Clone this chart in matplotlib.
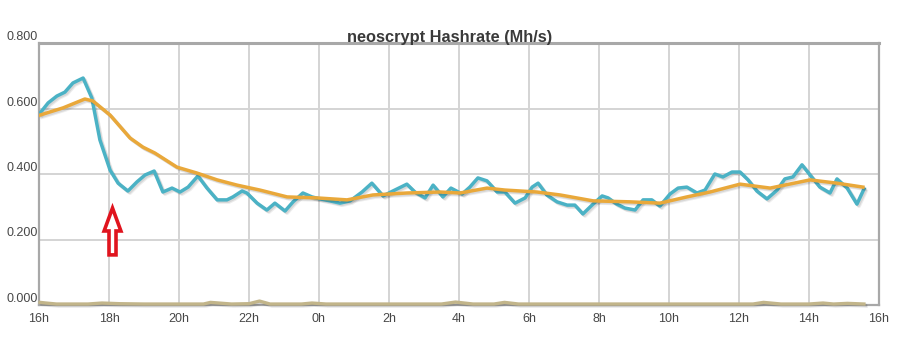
import matplotlib
matplotlib.use("Agg")
import matplotlib.pyplot as plt
import matplotlib.patheffects as pe
from matplotlib.patches import FancyArrow

# hours after 16h
hashrate_t = [0.03, 0.26, 0.51, 0.74, 0.97, 1.26, 1.51, 1.74, 2.03, 2.26, 2.54, 2.80, 3.03, 3.29,
              3.54, 3.80, 4.03, 4.26, 4.54, 4.80, 5.09, 5.37, 5.54, 5.80, 5.94, 6.23, 6.51, 6.74,
              7.03, 7.26, 7.54, 7.80, 8.03, 8.31, 8.60, 8.89, 9.23, 9.51, 9.83, 10.11, 10.51, 10.74,
              11.03, 11.26, 11.54, 11.77, 12.09, 12.31, 12.54, 12.80, 13.09, 13.31, 13.60, 13.89,
              14.09, 14.26, 14.51, 14.80, 15.09, 15.31, 15.54, 15.80, 16.09, 16.26, 16.51, 16.74,
              17.03, 17.26, 17.51, 17.74, 18.03, 18.26, 18.51, 18.80, 19.03, 19.31, 19.54, 19.80,
              20.03, 20.26, 20.51, 20.80, 21.09, 21.31, 21.54, 21.80, 22.03, 22.31, 22.60, 22.80,
              23.09, 23.37, 23.57]
hashrate = [0.586, 0.617, 0.638, 0.650, 0.678, 0.693, 0.632, 0.504, 0.412, 0.372, 0.348, 0.376,
            0.397, 0.409, 0.345, 0.357, 0.345, 0.360, 0.394, 0.357, 0.321, 0.321, 0.330, 0.348,
            0.342, 0.311, 0.290, 0.311, 0.287, 0.315, 0.342, 0.330, 0.324, 0.318, 0.311, 0.318,
            0.345, 0.372, 0.333, 0.348, 0.369, 0.345, 0.327, 0.366, 0.330, 0.357, 0.339, 0.360,
            0.388, 0.379, 0.345, 0.345, 0.311, 0.327, 0.360, 0.372, 0.336, 0.315, 0.305, 0.305,
            0.278, 0.305, 0.333, 0.327, 0.308, 0.296, 0.290, 0.321, 0.321, 0.302, 0.339, 0.357,
            0.360, 0.342, 0.351, 0.400, 0.391, 0.406, 0.406, 0.382, 0.348, 0.324, 0.351, 0.385,
            0.391, 0.428, 0.397, 0.360, 0.342, 0.385, 0.357, 0.308, 0.354]

average_t = [0.03, 0.69, 1.31, 1.54, 2.03, 2.60, 2.97, 3.31, 3.94, 4.51, 5.09, 5.66, 6.31, 7.09,
             7.94, 8.80, 9.54, 10.51, 11.46, 12.03, 12.80, 13.31, 14.23, 14.89, 15.83, 16.89,
             17.74, 18.51, 19.17, 20.03, 20.89, 22.03, 22.80, 23.54]
average = [0.580, 0.602, 0.629, 0.623, 0.580, 0.510, 0.482, 0.464, 0.421, 0.403, 0.382, 0.366,
           0.351, 0.330, 0.327, 0.321, 0.336, 0.342, 0.345, 0.342, 0.357, 0.351, 0.345, 0.336,
           0.318, 0.315, 0.311, 0.330, 0.345, 0.369, 0.357, 0.382, 0.372, 0.360]

rejected_t = [0.03, 0.2, 0.5, 1.4, 1.8, 2.3, 3.0, 4.7, 4.9, 5.5, 6.0, 6.3, 6.6, 7.5, 7.8, 8.2,
              11.5, 11.9, 12.4, 13.0, 13.3, 13.7, 20.4, 20.7, 21.2, 22.0, 22.4, 22.7, 23.1, 23.57]
rejected = [0.008, 0.006, 0.003, 0.003, 0.006, 0.004, 0.003, 0.003, 0.008, 0.003, 0.004, 0.012,
            0.003, 0.003, 0.006, 0.003, 0.003, 0.009, 0.003, 0.003, 0.008, 0.003, 0.003, 0.008,
            0.003, 0.003, 0.006, 0.003, 0.005, 0.003]

x_ticks = [0, 2, 4, 6, 8, 10, 12, 14, 16, 18, 20, 22, 24]
x_labels = ['16h', '18h', '20h', '22h', '0h', '2h', '4h', '6h', '8h', '10h', '12h', '14h', '16h']
y_ticks = [0.0, 0.2, 0.4, 0.6, 0.8]
y_labels = ['0.000', '0.200', '0.400', '0.600', '0.800']

plt.rcParams['font.family'] = ['Liberation Sans', 'DejaVu Sans']

shadow = [pe.SimpleLineShadow(offset=(1.6, -1.6), shadow_color='black', alpha=0.07),
          pe.SimpleLineShadow(offset=(1.0, -1.0), shadow_color='black', alpha=0.09),
          pe.Normal()]

fig = plt.figure(figsize=(8.97, 3.53), dpi=100)
ax = fig.add_axes([39 / 897, 48 / 353, 840 / 897, 262 / 353])

ax.plot(rejected_t, rejected, color='#c2b58a', lw=2.4, zorder=4, clip_on=False, path_effects=shadow)
ax.plot(hashrate_t, hashrate, color='#4bb2c5', lw=2.5, zorder=5, path_effects=shadow)
ax.plot(average_t, average, color='#e9a83a', lw=2.5, zorder=6, path_effects=shadow)

ax.set_xlim(0, 24)
ax.set_ylim(0, 0.8)
ax.set_xticks(x_ticks)
ax.set_xticklabels(x_labels)
ax.set_yticks(y_ticks)
ax.set_yticklabels(y_labels)
for lbl in ax.get_yticklabels():
    lbl.set_va('bottom')
ax.tick_params(length=0, labelsize=9, colors='#474747')
ax.tick_params(axis='y', pad=1)
ax.tick_params(axis='x', pad=6)
ax.grid(True, color='#d4d4d4', lw=1.4)
ax.set_axisbelow(True)
for side in ax.spines.values():
    side.set_color('#a8a8a8')
    side.set_linewidth(1.6)
ax.spines['top'].set_linewidth(2.2)

# red hand-drawn marker arrow
ax.add_patch(FancyArrow(2.1, 0.153, 0, 0.143, width=0.2, head_width=0.48, head_length=0.07,
                        length_includes_head=True, facecolor='white', edgecolor='#e0141e',
                        lw=2.6, zorder=7))

fig.text(449.5 / 897, 1 - 42 / 353, 'neoscrypt Hashrate (Mh/s)', ha='center', va='baseline',
         fontsize=11.8, fontweight='bold', color='#3a3a3a')

plt.savefig('out.png', dpi=100)
plt.close()
